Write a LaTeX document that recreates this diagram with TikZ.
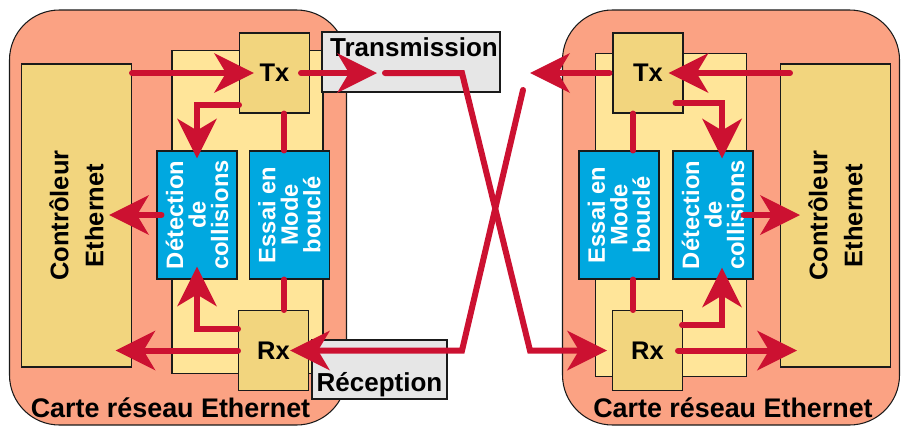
\documentclass[tikz,border=0pt]{standalone}
\usepackage{fontspec}
\setmainfont{Liberation Sans}
\usetikzlibrary{arrows.meta}

\begin{document}
\begin{tikzpicture}[
    card/.style={draw=borderColour, line width=0.6pt, fill=cardColour, rounded corners=1cm, minimum width=6.74cm, minimum height=8.3cm, inner sep=0pt},
    panel/.style={draw=borderColour, line width=0.6pt, fill=panelColour, minimum width=3.02cm, minimum height=6.46cm, inner sep=0pt},
    ctrl/.style={draw=borderColour, line width=0.6pt, fill=boxColour, minimum width=2.2cm, minimum height=6.06cm, inner sep=0pt},
    txrx/.style={draw=borderColour, line width=0.6pt, fill=boxColour, minimum width=1.4cm, minimum height=1.6cm, inner sep=0pt, font=\bfseries\fontsize{14.5}{17}\selectfont},
    unit/.style={draw=borderColour, line width=0.6pt, fill=blueColour, minimum width=1.6cm, minimum height=2.56cm, inner sep=0pt},
    tag/.style={draw=borderColour, line width=0.6pt, fill=labelColour, inner sep=0pt},
    boldText/.style={font=\bfseries\fontsize{14.8}{17}\selectfont, inner sep=0pt},
    cardText/.style={font=\bfseries\fontsize{15.3}{18}\selectfont, inner sep=0pt},
    sideText/.style={rotate=90, align=center, font=\bfseries\fontsize{14.5}{20}\selectfont},
    unitText/.style={rotate=90, align=center, text=white, font=\bfseries\fontsize{13.5}{12.8}\selectfont},
    wire/.style={draw=wireColour, line width=0.12cm, line cap=round},
    feed/.style={wire, -{Stealth[length=0.8cm, width=0.8cm, inset=0.24cm, line width=0pt]}}
]
    % Define colours
    \definecolor{borderColour}{HTML}{1A1A1A}
    \definecolor{cardColour}{HTML}{FBA283}
    \definecolor{panelColour}{HTML}{FFE599}
    \definecolor{boxColour}{HTML}{F2D57E}
    \definecolor{blueColour}{HTML}{00A8E0}
    \definecolor{labelColour}{HTML}{E6E6E6}
    \definecolor{wireColour}{HTML}{CC1131}

    \useasboundingbox (0,0) rectangle (18.02,8.56);

    % Draw the two network cards
    \node[card] (cardL) at (3.56,4.21) {};
    \node[card] (cardR) at (14.62,4.21) {};
    \node[panel] (panelL) at (4.95,4.32) {};
    \node[panel] (panelR) at (13.42,4.26) {};

    % Draw the controllers
    \node[ctrl] (ctrlL) at (1.53,4.25) {};
    \node[ctrl] (ctrlR) at (16.71,4.25) {};
    \node[sideText] (ctrlLText) at (ctrlL) {Contrôleur\\Ethernet};
    \node[sideText] (ctrlRText) at (ctrlR) {Contrôleur\\Ethernet};

    % Draw the blue units
    \node[unit] (detL) at (3.94,4.26) {};
    \node[unit] (testL) at (5.79,4.26) {};
    \node[unit] (testR) at (12.38,4.26) {};
    \node[unit] (detR) at (14.26,4.26) {};
    \node[unitText] (detLText) at (detL) {Détection\\de\\collisions};
    \node[unitText] (testLText) at (testL) {Essai en\\Mode\\bouclé};
    \node[unitText] (testRText) at (testR) {Essai en\\Mode\\bouclé};
    \node[unitText] (detRText) at (detR) {Détection\\de\\collisions};

    % Draw Tx and Rx
    \node[txrx] (txL) at (5.49,7.10) {Tx};
    \node[txrx] (rxL) at (5.47,1.55) {Rx};
    \node[txrx] (txR) at (12.96,7.10) {Tx};
    \node[txrx] (rxR) at (12.95,1.55) {Rx};

    % Draw the line labels
    \node[tag, minimum width=3.56cm, minimum height=1.2cm] (transBox) at (8.22,7.32) {};
    \node[tag, minimum width=2.7cm, minimum height=1.18cm] (recBox) at (7.59,1.17) {};
    \node[boldText, anchor=north] (transText) at ([xshift=0.06cm, yshift=-0.12cm]transBox.north) {Transmission};
    \node[boldText, anchor=base] (recText) at ([yshift=0.16cm]recBox.south) {Réception};

    % Define coordinates for the crossed cable
    \coordinate (aStart) at (7.70,7.10);
    \coordinate (aTop) at (9.24,7.10);
    \coordinate (aLow) at (10.60,1.55);
    \coordinate (bTop) at (10.46,6.76);
    \coordinate (bLow) at (9.24,1.55);
    \coordinate (txROut) at (10.60,7.10);

    % Draw the left card wires
    \draw[feed] (ctrlL.east |- txL.west) -- ([xshift=0.3cm]txL.west);
    \draw[feed] ([xshift=-0.18cm]txL.east) -- ([xshift=-0.16cm]aStart);
    \draw[feed] ([yshift=-0.64cm]txL.west) -| ([yshift=-0.16cm]detL.north);
    \draw[wire] ([xshift=0.19cm]txL.south) -- ([xshift=0.19cm]txL.south |- testL.north);
    \draw[feed] ([xshift=0.1cm]detL.west) -- ([xshift=-0.46cm]ctrlL.east |- detL.west);
    \draw[feed] ([yshift=0.43cm]rxL.west) -| ([yshift=0.26cm]detL.south);
    \draw[wire] ([xshift=0.21cm]rxL.north) -- ([xshift=0.21cm]rxL.north |- testL.south);
    \draw[feed] (rxL.west) -- ([xshift=-0.33cm]ctrlL.east |- rxL.west);

    % Draw the crossed cable
    \draw[feed] (aStart) -- (aTop) -- (aLow) -- ([xshift=-0.1cm]rxR.west);
    \draw[feed] (bTop) -- (bLow) -- ([xshift=-0.38cm]rxL.east);

    % Draw the right card wires
    \draw[feed] ([xshift=0.2cm]ctrlR.west |- txR.east) -- ([xshift=-0.3cm]txR.east);
    \draw[feed] ([xshift=-0.06cm]txR.west) -- (txROut);
    \draw[feed] ([xshift=-0.16cm, yshift=-0.6cm]txR.east) -| ([xshift=0.18cm, yshift=-0.16cm]detR.north);
    \draw[wire] ([xshift=-0.3cm]txR.south) -- ([xshift=-0.3cm]txR.south |- testR.north);
    \draw[feed] ([xshift=-0.2cm]detR.east) -- ([xshift=0.4cm]ctrlR.west |- detR.east);
    \draw[feed] ([xshift=-0.02cm, yshift=0.51cm]rxR.east) -| ([xshift=0.18cm, yshift=0.24cm]detR.south);
    \draw[wire] ([xshift=-0.29cm]rxR.north) -- ([xshift=-0.29cm]rxR.north |- testR.south);
    \draw[feed] ([xshift=-0.1cm]rxR.east) -- ([xshift=0.34cm]ctrlR.west |- rxR.east);

    % Label the cards
    \node[cardText, anchor=base] (cardLText) at ([xshift=-0.15cm, yshift=0.16cm]cardL.south) {Carte réseau Ethernet};
    \node[cardText, anchor=base] (cardRText) at ([xshift=0.04cm, yshift=0.16cm]cardR.south) {Carte réseau Ethernet};
\end{tikzpicture}
\end{document}
